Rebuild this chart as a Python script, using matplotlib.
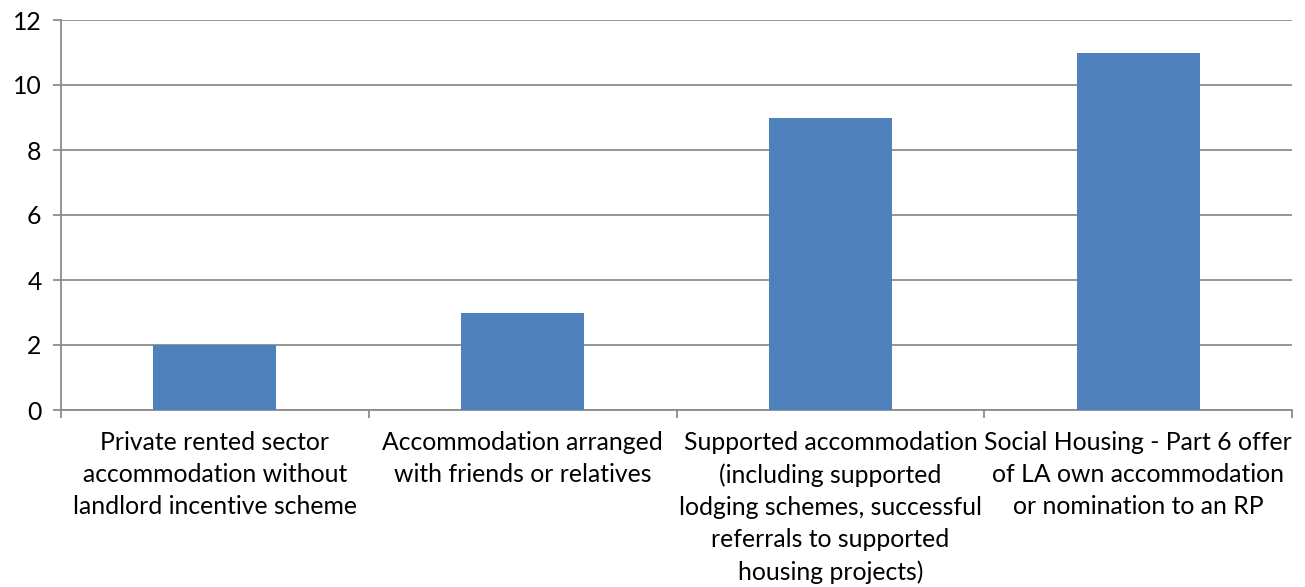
import matplotlib
matplotlib.use("Agg")
import matplotlib.pyplot as plt

categories = [
    "Private rented sector\naccommodation without\nlandlord incentive scheme",
    "Accommodation arranged\nwith friends or relatives",
    "Supported accommodation\n(including supported\nlodging schemes, successful\nreferrals to supported\nhousing projects)",
    "Social Housing - Part 6 offer\nof LA own accommodation\nor nomination to an RP",
]
values = [2, 3, 9, 11]
yticks = [0, 2, 4, 6, 8, 10, 12]

plt.rcParams['font.family'] = ['Lato', 'DejaVu Sans']
fig = plt.figure(figsize=(13.05, 5.87), dpi=100)
ax = fig.add_axes([61/1305, 1 - 410/587, (1292-61)/1305, (410-20)/587])

grid_c = "#8c8c8c"
x = list(range(len(values)))
ax.bar(x, values, width=0.4, color="#4f81bd", zorder=3)
ax.set_xlim(-0.5, len(values) - 0.5)
ax.set_ylim(0, 12)
ax.set_yticks(yticks)
ax.set_yticklabels([str(t) for t in yticks], fontsize=17.8)
ax.yaxis.grid(True, color=grid_c, linewidth=1.3, zorder=0)
ax.set_xticks([i + 0.5 for i in range(-1, len(values))])
ax.set_xticklabels([])
ax.set_xticks(x, minor=True)
ax.set_xticklabels(categories, minor=True, fontsize=17.8, linespacing=1.48)
ax.tick_params(axis='x', which='minor', length=0, pad=15)
ax.tick_params(axis='x', which='major', length=6, color=grid_c, width=1.3)
ax.tick_params(axis='y', length=6, color=grid_c, width=1.3, pad=8)
for s in ['top', 'right']:
    ax.spines[s].set_visible(False)
ax.spines['left'].set_color(grid_c)
ax.spines['bottom'].set_color(grid_c)
ax.spines['left'].set_linewidth(1.3)
ax.spines['bottom'].set_linewidth(1.3)

fig.savefig("out.png", dpi=100)
